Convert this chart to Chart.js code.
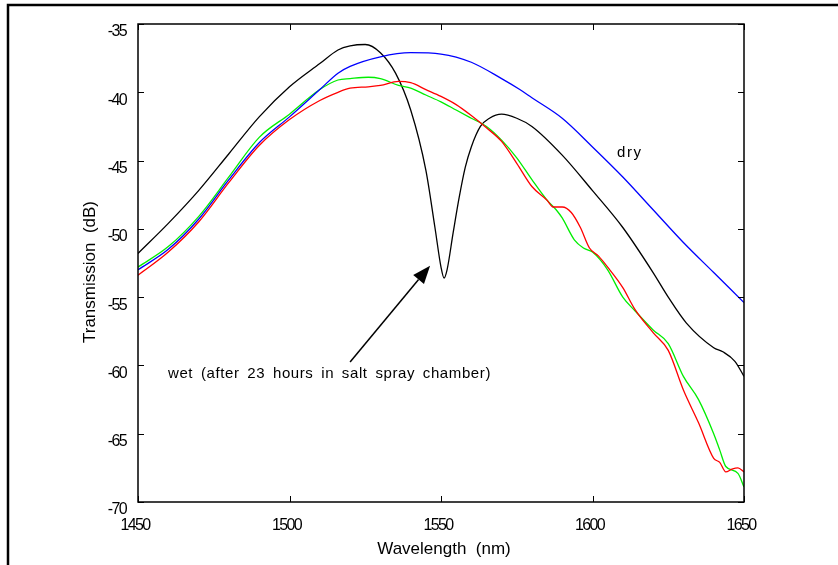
<!DOCTYPE html>
<html>
<head>
<meta charset="utf-8">
<script src="https://cdn.jsdelivr.net/npm/chart.js@4.4.1/dist/chart.umd.min.js"></script>
<style>
  html, body { margin: 0; padding: 0; background: #fff; }
  #wrap { width: 838px; height: 565px; }
</style>
</head>
<body>
<div id="wrap"><canvas id="chart" width="838" height="565"></canvas></div>
<script>
// wavelength (nm) / transmission (dB)
const wetX = [1450,1460,1470,1480,1490,1500,1510,1516,1520,1525,1530,1535,1540,1545,1548,1550,1551,1552,1554,1556,1558,1560,1563,1566,1570,1575,1580,1590,1600,1610,1620,1625,1631,1640,1643,1647,1650];
const wetY = [-51.8,-49.6,-47.2,-44.5,-41.8,-39.6,-37.9,-36.9,-36.6,-36.5,-37.1,-38.6,-41.3,-45.7,-49.9,-52.8,-53.6,-53.0,-50.3,-47.7,-45.5,-44.0,-42.5,-41.9,-41.6,-41.9,-42.5,-44.6,-47.2,-49.9,-53.2,-55.0,-56.9,-58.7,-59.0,-59.7,-60.8];

const dryX = [1450,1460,1470,1480,1490,1500,1510,1516,1520,1530,1540,1550,1560,1570,1576,1580,1590,1600,1610,1620,1630,1640,1650];
const dryY = [-53.0,-51.5,-49.3,-46.4,-43.7,-41.8,-39.8,-38.6,-38.1,-37.4,-37.1,-37.2,-37.8,-39.0,-39.8,-40.4,-41.9,-44.0,-46.2,-48.6,-51.0,-53.2,-55.4];

const greenX = [1450,1460,1470,1480,1490,1500,1510,1516,1520,1526,1530,1536,1540,1545,1550,1555,1560,1565,1570,1575,1580,1585,1588,1590,1594,1597,1600,1605,1610,1614,1620,1625,1630,1635,1640,1642,1644,1648,1650];
const greenY = [-52.8,-51.3,-49.1,-46.2,-43.3,-41.6,-39.8,-39.1,-39.0,-38.9,-39.0,-39.5,-39.7,-40.2,-40.7,-41.3,-41.9,-42.5,-43.5,-44.8,-46.4,-47.9,-48.6,-49.2,-50.8,-51.4,-51.7,-53.0,-55.0,-56.0,-57.4,-58.4,-60.8,-62.5,-65.0,-66.2,-67.4,-67.9,-68.9];

const redX = [1450,1460,1470,1480,1490,1500,1510,1516,1520,1526,1530,1536,1540,1545,1550,1555,1560,1565,1570,1575,1580,1585,1587,1590,1593,1596,1599,1602,1605,1610,1614,1620,1625,1630,1635,1640,1642,1644,1646,1648,1650];
const redY = [-53.4,-51.7,-49.5,-46.6,-43.9,-42.0,-40.6,-40.0,-39.7,-39.6,-39.5,-39.2,-39.3,-39.8,-40.3,-40.9,-41.7,-42.6,-43.6,-45.2,-46.9,-47.9,-48.4,-48.4,-48.8,-49.9,-51.4,-52.0,-52.8,-54.3,-55.9,-57.6,-58.9,-61.8,-64.2,-66.8,-67.1,-67.8,-67.6,-67.5,-67.8];

const xTicks = [1450, 1500, 1550, 1600, 1650];
const yTicks = [-70, -65, -60, -55, -50, -45, -40, -35];

function pts(xs, ys) {
  return xs.map((x, i) => ({ x: x, y: ys[i] }));
}

function line(data, color) {
  return {
    data: data,
    borderColor: color,
    borderWidth: 1.3,
    pointRadius: 0,
    fill: false,
    cubicInterpolationMode: 'monotone'
  };
}

// frame, inward ticks, titles, notes
const extras = {
  id: 'extras',
  beforeDraw(chart) {
    chart.ctx.letterSpacing = '-1.6px';
  },
  afterDraw(chart) {
    const ctx = chart.ctx;
    const a = chart.chartArea;
    const xs = chart.scales.x, ys = chart.scales.y;
    ctx.save();
    ctx.letterSpacing = '0px';
    ctx.strokeStyle = '#000';

    ctx.lineWidth = 2.5;
    ctx.strokeRect(8, 5, 900, 900);

    ctx.lineWidth = 1.5;
    ctx.strokeRect(a.left, a.top, a.right - a.left, a.bottom - a.top);

    ctx.lineWidth = 1;
    ctx.beginPath();
    xTicks.forEach(v => {
      const px = Math.round(xs.getPixelForValue(v)) + 0.5;
      ctx.moveTo(px, a.bottom); ctx.lineTo(px, a.bottom - 6);
      ctx.moveTo(px, a.top); ctx.lineTo(px, a.top + 6);
    });
    yTicks.forEach(v => {
      const py = Math.round(ys.getPixelForValue(v)) + 0.5;
      ctx.moveTo(a.left, py); ctx.lineTo(a.left + 6, py);
      ctx.moveTo(a.right, py); ctx.lineTo(a.right - 6, py);
    });
    ctx.stroke();

    ctx.fillStyle = '#000';
    ctx.font = '17px "Liberation Sans", Arial, sans-serif';
    ctx.textAlign = 'center';
    ctx.textBaseline = 'middle';
    ctx.fillText('Wavelength  (nm)', (a.left + a.right) / 2 + 3, 549);
    ctx.save();
    ctx.translate(90, 272);
    ctx.rotate(-Math.PI / 2);
    ctx.fillText('Transmission  (dB)', 0, 0);
    ctx.restore();

    // notes
    ctx.font = '15px "Liberation Sans", Arial, sans-serif';
    ctx.textAlign = 'left';
    ctx.letterSpacing = '1.5px';
    ctx.fillText('dry', xs.getPixelForValue(1608.1), ys.getPixelForValue(-44.4));
    ctx.letterSpacing = '0.6px';
    ctx.wordSpacing = '3px';
    ctx.fillText('wet (after 23 hours in salt spray chamber)', xs.getPixelForValue(1459.9), ys.getPixelForValue(-60.6));

    // arrow
    const x0 = xs.getPixelForValue(1520.0), y0 = ys.getPixelForValue(-59.75);
    const x1 = xs.getPixelForValue(1546.4), y1 = ys.getPixelForValue(-52.7);
    const ang = Math.atan2(y1 - y0, x1 - x0);
    const hl = 18, hw = 7;
    const bx = x1 - hl * Math.cos(ang), by = y1 - hl * Math.sin(ang);
    ctx.lineWidth = 1.5;
    ctx.beginPath();
    ctx.moveTo(x0, y0); ctx.lineTo(bx, by);
    ctx.stroke();
    ctx.beginPath();
    ctx.moveTo(x1, y1);
    ctx.lineTo(bx + hw * Math.sin(ang), by - hw * Math.cos(ang));
    ctx.lineTo(bx - hw * Math.sin(ang), by + hw * Math.cos(ang));
    ctx.closePath();
    ctx.fill();
    ctx.restore();
  }
};

const tickFont = { family: '"Liberation Sans", Arial, sans-serif', size: 16 };

new Chart(document.getElementById('chart'), {
  type: 'line',
  data: {
    datasets: [
      line(pts(dryX, dryY), '#0000ff'),
      line(pts(redX, redY), '#ff0000'),
      line(pts(greenX, greenY), '#00ee00'),
      line(pts(wetX, wetY), '#000000')
    ]
  },
  options: {
    responsive: false,
    animation: false,
    devicePixelRatio: 1,
    layout: { padding: { left: 0, top: 24, right: 94, bottom: 0 } },
    plugins: { legend: { display: false }, tooltip: { enabled: false } },
    scales: {
      x: {
        type: 'linear',
        min: 1450,
        max: 1650,
        grid: { display: false, drawTicks: false },
        border: { display: false },
        ticks: { stepSize: 50, autoSkip: false, maxRotation: 0, color: '#000', font: tickFont, padding: 14, labelOffset: -3,
          callback: (v) => String(v) },
        afterFit: (s) => { s.height = 63; }
      },
      y: {
        type: 'linear',
        min: -70,
        max: -35,
        grid: { display: false, drawTicks: false },
        border: { display: false },
        ticks: { stepSize: 5, autoSkip: false, color: '#000', font: tickFont, padding: 12, labelOffset: 8,
          callback: (v) => String(v) },
        afterFit: (s) => { s.width = 138; }
      }
    }
  },
  plugins: [extras]
});
</script>
</body>
</html>
